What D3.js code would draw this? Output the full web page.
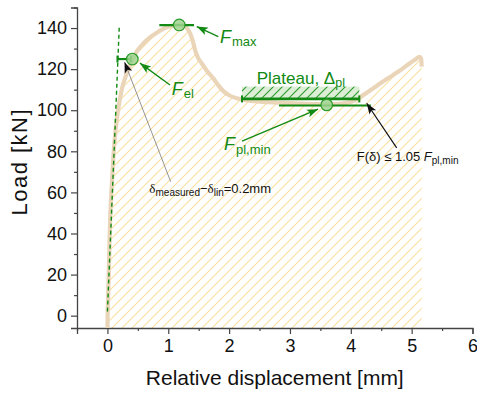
<!DOCTYPE html>
<html><head><meta charset="utf-8">
<script src="https://cdn.jsdelivr.net/npm/d3@7"></script>
<style>body{margin:0;background:#fff}svg{display:block}text{font-family:Arial,"Liberation Sans",sans-serif}</style>
</head><body><svg id="c" width="477" height="395"></svg>
<script>
// ---- data ----
const dispMm = [0,0.005,0.015,0.028,0.043,0.07,0.097,0.14,0.185,0.235,0.3,0.36,0.409,0.5,0.6,0.7,0.8,0.9,1.0,1.1,1.177,1.25,1.31,1.357,1.4,1.439,1.49,1.55,1.64,1.74,1.82,1.905,2.0,2.125,2.29,2.5,2.8,3.1,3.4,3.6,3.8,3.95,4.05,4.123,4.25,4.37,4.53,4.698,4.84,4.97,5.06,5.13,5.155,5.165];
const loadKN = [-6,2,13,28,45,63,77,92,102,110,116.5,121,124.9,129.3,132.8,135.5,137.5,139.3,140.6,141.3,141.5,141,139.8,137.5,134,129.5,125.5,122.8,119,115.5,112.2,109.3,107.3,105.8,104.8,104.2,103.7,103.3,103,102.9,103.1,103.7,104.6,105.8,108.3,110.7,114,117.2,120,122.9,124.7,126,125.2,121.2];
const xTicks = [0,1,2,3,4,5,6];
const xMinorTicks = [-0.5,0.5,1.5,2.5,3.5,4.5,5.5];
const yTicks = [0,20,40,60,80,100,120,140];
const yMinorTicks = [10,30,50,70,90,110,130,150];
const xDomain = [-0.5,6];
const yDomain = [-6,150];
// linear-elastic reference (dashed)
const linX = [0,0.196];
const linY = [2,141.5];
// characteristic points
const pointNames = ["F_el","F_max","F_pl,min"];
const pointX = [0.409,1.18,3.604];
const pointY = [124.9,141.5,102.6];
// horizontal marker lines [x0,x1,y]
const fmaxLine = [0.853,1.423,141.4];
const felLine = [0.165,0.385,124.9];
const plateauLine = [2.212,4.14,105.5];
const plateauTop = 111.5;
const fplminLine = [2.82,4.33,102.3];
// arrows: [fromX,fromY,toX,toY]
const arrFmax = [1.822,135.8,1.468,140.7];
const arrFel = [1.029,112.3,0.536,122.9];
const arrFpl = [2.212,85.0,3.461,100.5];
const arrCrit = [4.754,81.7,4.261,103.4];
const arrDelta = [1.040,65.2,0.281,123.5];
// label anchors
const lblFmax = [1.85,132.6];
const lblFel = [1.057,107.4];
const lblFpl = [1.916,80.7];
const lblPlateau = [2.454,112.8];
const lblCrit = [4.097,75.5];
const lblDelta = [0.689,59.6];

// ---- drawing ----
const svg = d3.select("#c");
const green = "#138a13";
const x = d3.scaleLinear().domain(xDomain).range([77,472.5]);
const y = d3.scaleLinear().domain(yDomain).range([328,7.5]);

const defs = svg.append("defs");
const hp = defs.append("pattern").attr("id","hatchYellow").attr("patternUnits","userSpaceOnUse").attr("width",10).attr("height",10);
hp.append("path").attr("d","M-1,11 L11,-1 M-3,3 L3,-3 M7,13 L13,7").attr("fill","none")
  .style("stroke","#fae0a0").style("stroke-width","1.1px");
const gp = defs.append("pattern").attr("id","hatchGreen").attr("patternUnits","userSpaceOnUse").attr("width",9).attr("height",9);
gp.append("rect").attr("width",9).attr("height",9).attr("fill","#dcefd6");
gp.append("path").attr("d","M-1,10 L10,-1 M-3,3 L3,-3 M6,12 L12,6").attr("fill","none").style("stroke","#2e9a2e").style("stroke-width","1.1px");
function marker(id,color){
  defs.append("marker").attr("id",id).attr("markerUnits","userSpaceOnUse").attr("markerWidth",12).attr("markerHeight",10)
   .attr("viewBox","0 0 12 10").attr("refX",11).attr("refY",5).attr("orient","auto")
   .append("path").attr("d","M0,1 L11,5 L0,9 L2.5,5 Z").attr("fill",color);
}
marker("ahG",green); marker("ahK","#111");

const pts = dispMm.map((d,i)=>[d,loadKN[i]]);
svg.append("path").datum(pts).attr("fill","url(#hatchYellow)")
  .attr("d",d3.area().x(d=>x(d[0])).y0(y(yDomain[0])).y1(d=>y(d[1])).curve(d3.curveMonotoneX));

// axes
const gx = svg.append("g").attr("transform",`translate(0,${y(yDomain[0])})`);
gx.call(d3.axisBottom(x).tickValues(xTicks).tickSize(6).tickPadding(5).tickFormat(d3.format("d")));
gx.append("g").call(d3.axisBottom(x).tickValues(xMinorTicks).tickSize(3).tickFormat(""));
const gy = svg.append("g").attr("transform",`translate(${x(xDomain[0])},0)`);
gy.call(d3.axisLeft(y).tickValues(yTicks).tickSize(6).tickPadding(4).tickFormat(d3.format("d")));
gy.append("g").call(d3.axisLeft(y).tickValues(yMinorTicks).tickSize(3).tickFormat(""));
svg.selectAll(".domain").attr("stroke","#444").attr("stroke-width",1.3);
svg.selectAll(".tick line").attr("stroke","#444").attr("stroke-width",1.2);
svg.selectAll(".tick text").attr("font-size",18).attr("fill","#111").attr("font-family","Arial,'Liberation Sans',sans-serif");
gx.selectAll("g g .domain").remove();
gy.selectAll("g g .domain").remove();

svg.append("text").attr("x",(x.range()[0]+x.range()[1])/2).attr("y",385).attr("text-anchor","middle")
  .attr("font-size",21).attr("fill","#111").text("Relative displacement [mm]");
svg.append("text").attr("transform",`translate(27,${(y.range()[0]+y.range()[1])/2 - 6}) rotate(-90)`).attr("text-anchor","middle")
  .attr("font-size",22).attr("letter-spacing",1.5).attr("fill","#111").text("Load [kN]");

// curve
svg.append("path").datum(pts).attr("fill","none").attr("stroke","#ead5b9").attr("stroke-width",4.2).attr("stroke-linejoin","round")
  .attr("d",d3.line().x(d=>x(d[0])).y(d=>y(d[1])).curve(d3.curveMonotoneX));

// dashed linear line
svg.append("line").attr("x1",x(linX[0])).attr("y1",y(linY[0])).attr("x2",x(linX[1])).attr("y2",y(linY[1]))
  .attr("stroke",green).attr("stroke-width",1.4).attr("stroke-dasharray","4,3");

// plateau band
svg.append("rect").attr("x",x(plateauLine[0])).attr("y",y(plateauTop)).attr("width",x(plateauLine[1])-x(plateauLine[0]))
  .attr("height",y(plateauLine[2])-y(plateauTop)).attr("fill","url(#hatchGreen)");

function hline(l,w,ticks){
  svg.append("line").attr("x1",x(l[0])).attr("x2",x(l[1])).attr("y1",y(l[2])).attr("y2",y(l[2])).attr("stroke",green).attr("stroke-width",w);
  if(ticks){[l[0],l[1]].forEach(v=>svg.append("line").attr("x1",x(v)).attr("x2",x(v)).attr("y1",y(l[2])-3.5).attr("y2",y(l[2])+3.5).attr("stroke",green).attr("stroke-width",2));}
}
hline(fmaxLine,2.2,false);
hline(felLine,2.2,true);
hline(plateauLine,2.6,true);
hline(fplminLine,2.2,false);

svg.selectAll("circle.pt").data(pointX).join("circle").attr("class","pt")
  .attr("cx",d=>x(d)).attr("cy",(d,i)=>y(pointY[i])).attr("r",5.8)
  .attr("fill","#9fd48f").attr("fill-opacity",0.85).attr("stroke","#2a9a2a").attr("stroke-width",1.2);

function arrow(a,color,mk,w){
  svg.append("line").attr("x1",x(a[0])).attr("y1",y(a[1])).attr("x2",x(a[2])).attr("y2",y(a[3]))
    .attr("stroke",color).attr("stroke-width",w).attr("marker-end",`url(#${mk})`);
}
arrow(arrFmax,green,"ahG",1.4);
arrow(arrFel,green,"ahG",1.4);
arrow(arrFpl,green,"ahG",1.4);
arrow(arrCrit,"#111","ahK",1.2);
arrow(arrDelta,"#888","ahK",0.9);

function fLabel(pos,sub,color,fs,ss,dy){
  const t = svg.append("text").attr("x",x(pos[0])).attr("y",y(pos[1])).attr("fill",color).attr("font-size",fs);
  t.append("tspan").attr("font-style","italic").text("F");
  t.append("tspan").attr("font-size",ss).attr("dy",dy).attr("dx",1).text(sub);
}
fLabel(lblFmax,"max",green,18,13,3);
fLabel(lblFel,"el",green,18,13,3);
fLabel(lblFpl,"pl,min",green,18,13,4);

const tp = svg.append("text").attr("x",x(lblPlateau[0])).attr("y",y(lblPlateau[1])).attr("fill",green).attr("font-size",17);
tp.append("tspan").text("Plateau, Δ");
tp.append("tspan").attr("font-size",12.5).attr("dy",3).text("pl");

const tc = svg.append("text").attr("x",x(lblCrit[0])).attr("y",y(lblCrit[1])).attr("fill","#111").attr("font-size",13);
tc.append("tspan").text("F(δ) ≤ 1.05 ");
tc.append("tspan").attr("font-style","italic").text("F");
tc.append("tspan").attr("font-size",10).attr("dy",3).text("pl,min");

const td = svg.append("text").attr("x",x(lblDelta[0])).attr("y",y(lblDelta[1])).attr("fill","#111").attr("font-size",13);
td.append("tspan").attr("font-family","'Liberation Serif',serif").text("δ");
td.append("tspan").attr("font-size",10).attr("dy",3).text("measured");
td.append("tspan").attr("dy",-3).text("−");
td.append("tspan").attr("font-family","'Liberation Serif',serif").text("δ");
td.append("tspan").attr("font-size",10).attr("dy",3).text("lin");
td.append("tspan").attr("dy",-3).text("=0.2mm");
</script></body></html>
